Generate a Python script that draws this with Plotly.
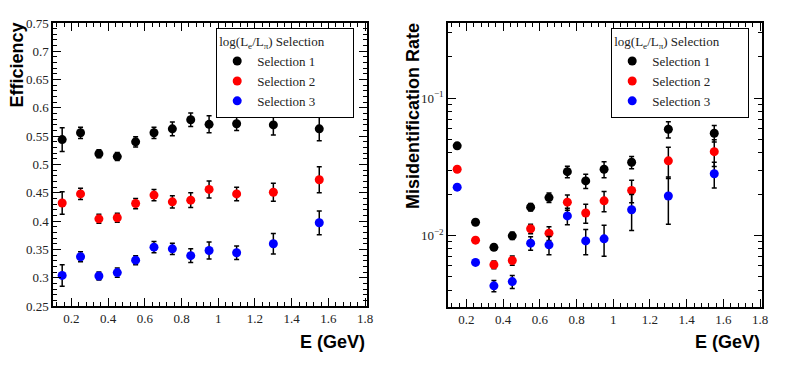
import plotly.graph_objects as go

energy = [0.15, 0.25, 0.35, 0.45, 0.55, 0.65, 0.75, 0.85, 0.95, 1.1, 1.3, 1.55]
names = ["Selection 1", "Selection 2", "Selection 3"]
colors = ["black", "red", "blue"]

# efficiency
eff_1 = [0.544, 0.556, 0.519, 0.514, 0.540, 0.556, 0.563, 0.579, 0.571, 0.572, 0.570, 0.563]
eff_1_err = [0.021, 0.010, 0.007, 0.007, 0.009, 0.010, 0.012, 0.012, 0.015, 0.012, 0.018, 0.021]
eff_2 = [0.432, 0.448, 0.404, 0.406, 0.431, 0.446, 0.434, 0.437, 0.456, 0.448, 0.451, 0.473]
eff_2_err = [0.020, 0.010, 0.008, 0.008, 0.009, 0.010, 0.011, 0.013, 0.015, 0.012, 0.016, 0.023]
eff_3 = [0.304, 0.337, 0.303, 0.309, 0.331, 0.354, 0.351, 0.339, 0.348, 0.344, 0.360, 0.397]
eff_3_err = [0.019, 0.009, 0.007, 0.008, 0.008, 0.010, 0.010, 0.012, 0.015, 0.012, 0.018, 0.021]

# misidentification rate
mis_1 = [0.045, 0.0125, 0.0082, 0.00995, 0.0161, 0.0189, 0.0292, 0.025, 0.0304, 0.0342, 0.0594, 0.0556]
mis_1_err = [0.002, 0.0005, 0.0004, 0.0006, 0.001, 0.0015, 0.0028, 0.003, 0.004, 0.0035, 0.008, 0.0076]
mis_2 = [0.0304, 0.00925, 0.00612, 0.00658, 0.0112, 0.0104, 0.0175, 0.0146, 0.0179, 0.0213, 0.035, 0.0408]
mis_2_err = [0.001, 0.0004, 0.0004, 0.0005, 0.0009, 0.0012, 0.0022, 0.0023, 0.003, 0.004, 0.009, 0.009]
mis_3 = [0.0225, 0.00637, 0.0043, 0.00462, 0.0088, 0.00855, 0.0139, 0.00914, 0.00946, 0.0154, 0.0194, 0.0282]
mis_3_err = [0.0008, 0.0003, 0.0004, 0.0005, 0.001, 0.0013, 0.0019, 0.0019, 0.0024, 0.0045, 0.0073, 0.006]

eff = [eff_1, eff_2, eff_3]
eff_err = [eff_1_err, eff_2_err, eff_3_err]
mis = [mis_1, mis_2, mis_3]
mis_err = [mis_1_err, mis_2_err, mis_3_err]

W, H = 789, 369
serif = "Liberation Serif"
sans = "Liberation Sans"

fig = go.Figure()
for i in range(3):
    fig.add_trace(go.Scatter(
        x=energy, y=eff[i], mode="markers", name=names[i],
        marker=dict(color=colors[i], size=9),
        error_y=dict(type="data", array=eff_err[i], color="black", thickness=1.5, width=2.5),
        xaxis="x", yaxis="y", legend="legend"))
for i in range(3):
    fig.add_trace(go.Scatter(
        x=energy, y=mis[i], mode="markers", name=names[i],
        marker=dict(color=colors[i], size=9),
        error_y=dict(type="data", array=mis_err[i], color="black", thickness=1.5, width=2.5),
        xaxis="x2", yaxis="y2", legend="legend2"))

def px_x(p):
    return p / W

def px_y(p):
    return 1 - p / H

tickfont = dict(family=serif, size=13, color="#222")
common = dict(showline=True, linecolor="black", linewidth=1.5, mirror="allticks",
              ticks="inside", ticklen=8, tickcolor="black", tickwidth=1,
              showgrid=False, zeroline=False, tickfont=tickfont, automargin=False)

log_minor = []
for dec in [0.001, 0.01, 0.1]:
    for m in range(2, 10):
        log_minor.append(m * dec)

xticks = [0.2, 0.4, 0.6, 0.8, 1, 1.2, 1.4, 1.6, 1.8]
xticktext = ["0.2", "0.4", "0.6", "0.8", "1", "1.2", "1.4", "1.6", "1.8"]
# transparent tail widens the legend box like the original
legend_title = ("log(L<sub>e</sub>/L<sub>\u03c0</sub>) Selection"
                "<span style='color:rgba(0,0,0,0)'>____</span>")

leg = dict(xanchor="left", yanchor="top",
           bgcolor="white", bordercolor="black", borderwidth=1.2,
           font=dict(family=serif, size=13, color="#222"),
           title=dict(text=legend_title, font=dict(family=serif, size=13, color="#222")),
           tracegroupgap=0, itemwidth=30)

fig.update_layout(
    template="none",
    width=W, height=H, margin=dict(l=0, r=0, t=0, b=0, autoexpand=False),
    paper_bgcolor="white", plot_bgcolor="white",
    xaxis=dict(domain=[px_x(53), px_x(367)], range=[0.1, 1.81], anchor="y",
               tickvals=xticks, ticktext=xticktext,
               minor=dict(dtick=0.04, tick0=0, ticks="inside", ticklen=4, tickcolor="black"),
               **common),
    yaxis=dict(domain=[px_y(306), px_y(23)], range=[0.25, 0.75], anchor="x",
               dtick=0.05, tick0=0.25,
               minor=dict(dtick=0.01, tick0=0, ticks="inside", ticklen=4, tickcolor="black"),
               **common),
    xaxis2=dict(domain=[px_x(448), px_x(762)], range=[0.1, 1.81], anchor="y2",
                tickvals=xticks, ticktext=xticktext,
                minor=dict(dtick=0.04, tick0=0, ticks="inside", ticklen=4, tickcolor="black"),
                **common),
    yaxis2=dict(domain=[px_y(306.5), px_y(23)], type="log", range=[-2.517, -0.452], anchor="x2",
                tickvals=[0.01, 0.1], ticktext=["10<sup>\u22122</sup>", "10<sup>\u22121</sup>"],
                minor=dict(tickvals=log_minor, ticks="inside", ticklen=4, tickcolor="black"),
                **common),
    legend=dict(x=px_x(216), y=px_y(28), **leg),
    legend2=dict(x=px_x(611), y=px_y(28), **leg),
    showlegend=True,
)

title_font = dict(family=sans, size=18, color="black")
fig.add_annotation(x=px_x(16), y=px_y(21), xref="paper", yref="paper", text="<b>Efficiency</b>",
                   textangle=-90, xanchor="center", yanchor="top", showarrow=False, font=title_font)
fig.add_annotation(x=px_x(413), y=px_y(21), xref="paper", yref="paper",
                   text="<b>Misidentification Rate</b>",
                   textangle=-90, xanchor="center", yanchor="top", showarrow=False, font=title_font)
fig.add_annotation(x=px_x(367), y=px_y(342), xref="paper", yref="paper", text="<b>E (GeV)</b>",
                   xanchor="right", yanchor="middle", showarrow=False, font=title_font)
fig.add_annotation(x=px_x(762), y=px_y(342), xref="paper", yref="paper", text="<b>E (GeV)</b>",
                   xanchor="right", yanchor="middle", showarrow=False, font=title_font)

fig.write_html("out.html", config={"displayModeBar": False},
               post_script="document.body.style.margin='0';")
